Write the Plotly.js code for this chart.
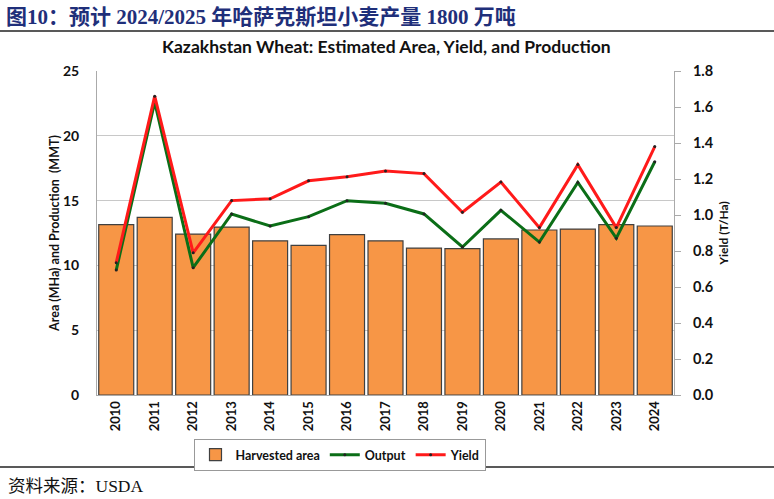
<!DOCTYPE html>
<html>
<head>
<meta charset="utf-8">
<script src="https://cdn.plot.ly/plotly-3.0.1.min.js"></script>
<style>
html,body{margin:0;padding:0;background:#fff;}
#chart{width:774px;height:499px;}
</style>
</head>
<body>
<div id="chart"></div>
<script>
const years = ["2010","2011","2012","2013","2014","2015","2016","2017","2018","2019","2020","2021","2022","2023","2024"];
const harvestedArea = [13.15, 13.7, 12.42, 12.96, 11.9, 11.55, 12.37, 11.9, 11.34, 11.29, 12.04, 12.73, 12.8, 13.15, 13.04];
const output = [9.64, 22.6, 9.82, 13.97, 13.04, 13.76, 14.99, 14.79, 13.97, 11.42, 14.25, 11.8, 16.4, 12.1, 18.0];
const yieldTHa = [0.735, 1.66, 0.79, 1.08, 1.09, 1.19, 1.213, 1.244, 1.23, 1.015, 1.183, 0.93, 1.28, 0.93, 1.38];

const headerText = "图10：预计 2024/2025 年哈萨克斯坦小麦产量 1800 万吨";
const chartTitle = "Kazakhstan Wheat: Estimated Area, Yield, and Production";
const sourceText = "资料来源：USDA";

const baseFont = "Lato, 'Open Sans', 'Liberation Sans', sans-serif";

const traces = [
  {
    type: "bar", name: "Harvested area", x: years, y: harvestedArea,
    marker: {color: "#F79646", line: {color: "#404040", width: 1.2}},
    yaxis: "y"
  },
  {
    type: "scatter", mode: "lines+markers", name: "Output", x: years, y: output,
    line: {color: "#0B6E17", width: 3},
    marker: {color: "#222", size: 3},
    yaxis: "y"
  },
  {
    type: "scatter", mode: "lines+markers", name: "Yield", x: years, y: yieldTHa,
    line: {color: "#FF1A1A", width: 3},
    marker: {color: "#222", size: 3},
    yaxis: "y2"
  }
];

const layout = {
  width: 774, height: 499,
  margin: {l: 97, r: 100, t: 71, b: 104},
  paper_bgcolor: "#fff", plot_bgcolor: "#fff",
  showlegend: true,
  bargap: 0.09,
  font: {family: baseFont, color: "#111"},
  xaxis: {
    type: "category", tickangle: -90, automargin: false, range: [-0.5, years.length - 0.5],
    tickfont: {family: baseFont, size: 13, color: "#111", weight: "bold"},
    showline: true, linecolor: "#aaa", ticks: "", showgrid: false
  },
  yaxis: {
    range: [0, 25], dtick: 5, showgrid: true, gridcolor: "#c8c8c8", gridwidth: 1,
    showline: true, linecolor: "#aaa", ticks: "", zeroline: false, automargin: false,
    ticklabelstandoff: 14,
    tickfont: {family: baseFont, size: 14, color: "#111", weight: "bold"},
    title: {text: "Area (MHa) and Production  (MMT)", font: {family: baseFont, size: 12.5, color: "#111", weight: "bold"}, standoff: 0}
  },
  yaxis2: {
    overlaying: "y", side: "right", range: [0, 1.8], dtick: 0.2, tickformat: ".1f",
    showgrid: false, zeroline: false, showline: true, linecolor: "#aaa", automargin: false,
    ticks: "outside", ticklen: 6, tickcolor: "#aaa", ticklabelstandoff: 9,
    tickfont: {family: baseFont, size: 14.5, color: "#111", weight: "bold"},
    title: {text: "Yield (T/Ha)", font: {family: baseFont, size: 12, color: "#111", weight: "bold"}, standoff: 6}
  },
  legend: {
    orientation: "h", x: 0.422, y: -0.136, xanchor: "center", yanchor: "top",
    bordercolor: "#999", borderwidth: 1, bgcolor: "#fff",
    font: {family: baseFont, size: 12.5, color: "#111", weight: "bold"},
    tracegroupgap: 0
  },
  annotations: [
    {text: headerText, xref: "paper", yref: "paper", x: -93/577, y: 1 + 54/324, xanchor: "left", yanchor: "middle",
     showarrow: false, font: {family: "'Liberation Serif', 'Noto Sans CJK SC', serif", size: 21, color: "#1F2F7A", weight: "bold"}},
    {text: chartTitle, xref: "paper", yref: "paper", x: (386-97)/577, y: 1 + 25/324, xanchor: "center", yanchor: "middle",
     showarrow: false, font: {family: baseFont, size: 17.5, color: "#111", weight: "bold"}},
    {text: sourceText, xref: "paper", yref: "paper", x: -91/577, y: -91/324, xanchor: "left", yanchor: "middle",
     showarrow: false, font: {family: "'Liberation Serif', 'Noto Sans CJK SC', serif", size: 17.5, color: "#111"}}
  ],
  shapes: [
    {type: "line", xref: "paper", yref: "paper", x0: -97/577, x1: 677/577, y0: 1 + 40/324, y1: 1 + 40/324, line: {color: "#222", width: 1.5}},
    {type: "line", xref: "paper", yref: "paper", x0: -97/577, x1: 677/577, y0: -72/324, y1: -72/324, line: {color: "#222", width: 1.5}}
  ]
};

Plotly.newPlot("chart", traces, layout, {displayModeBar: false, staticPlot: true});
</script>
</body>
</html>
